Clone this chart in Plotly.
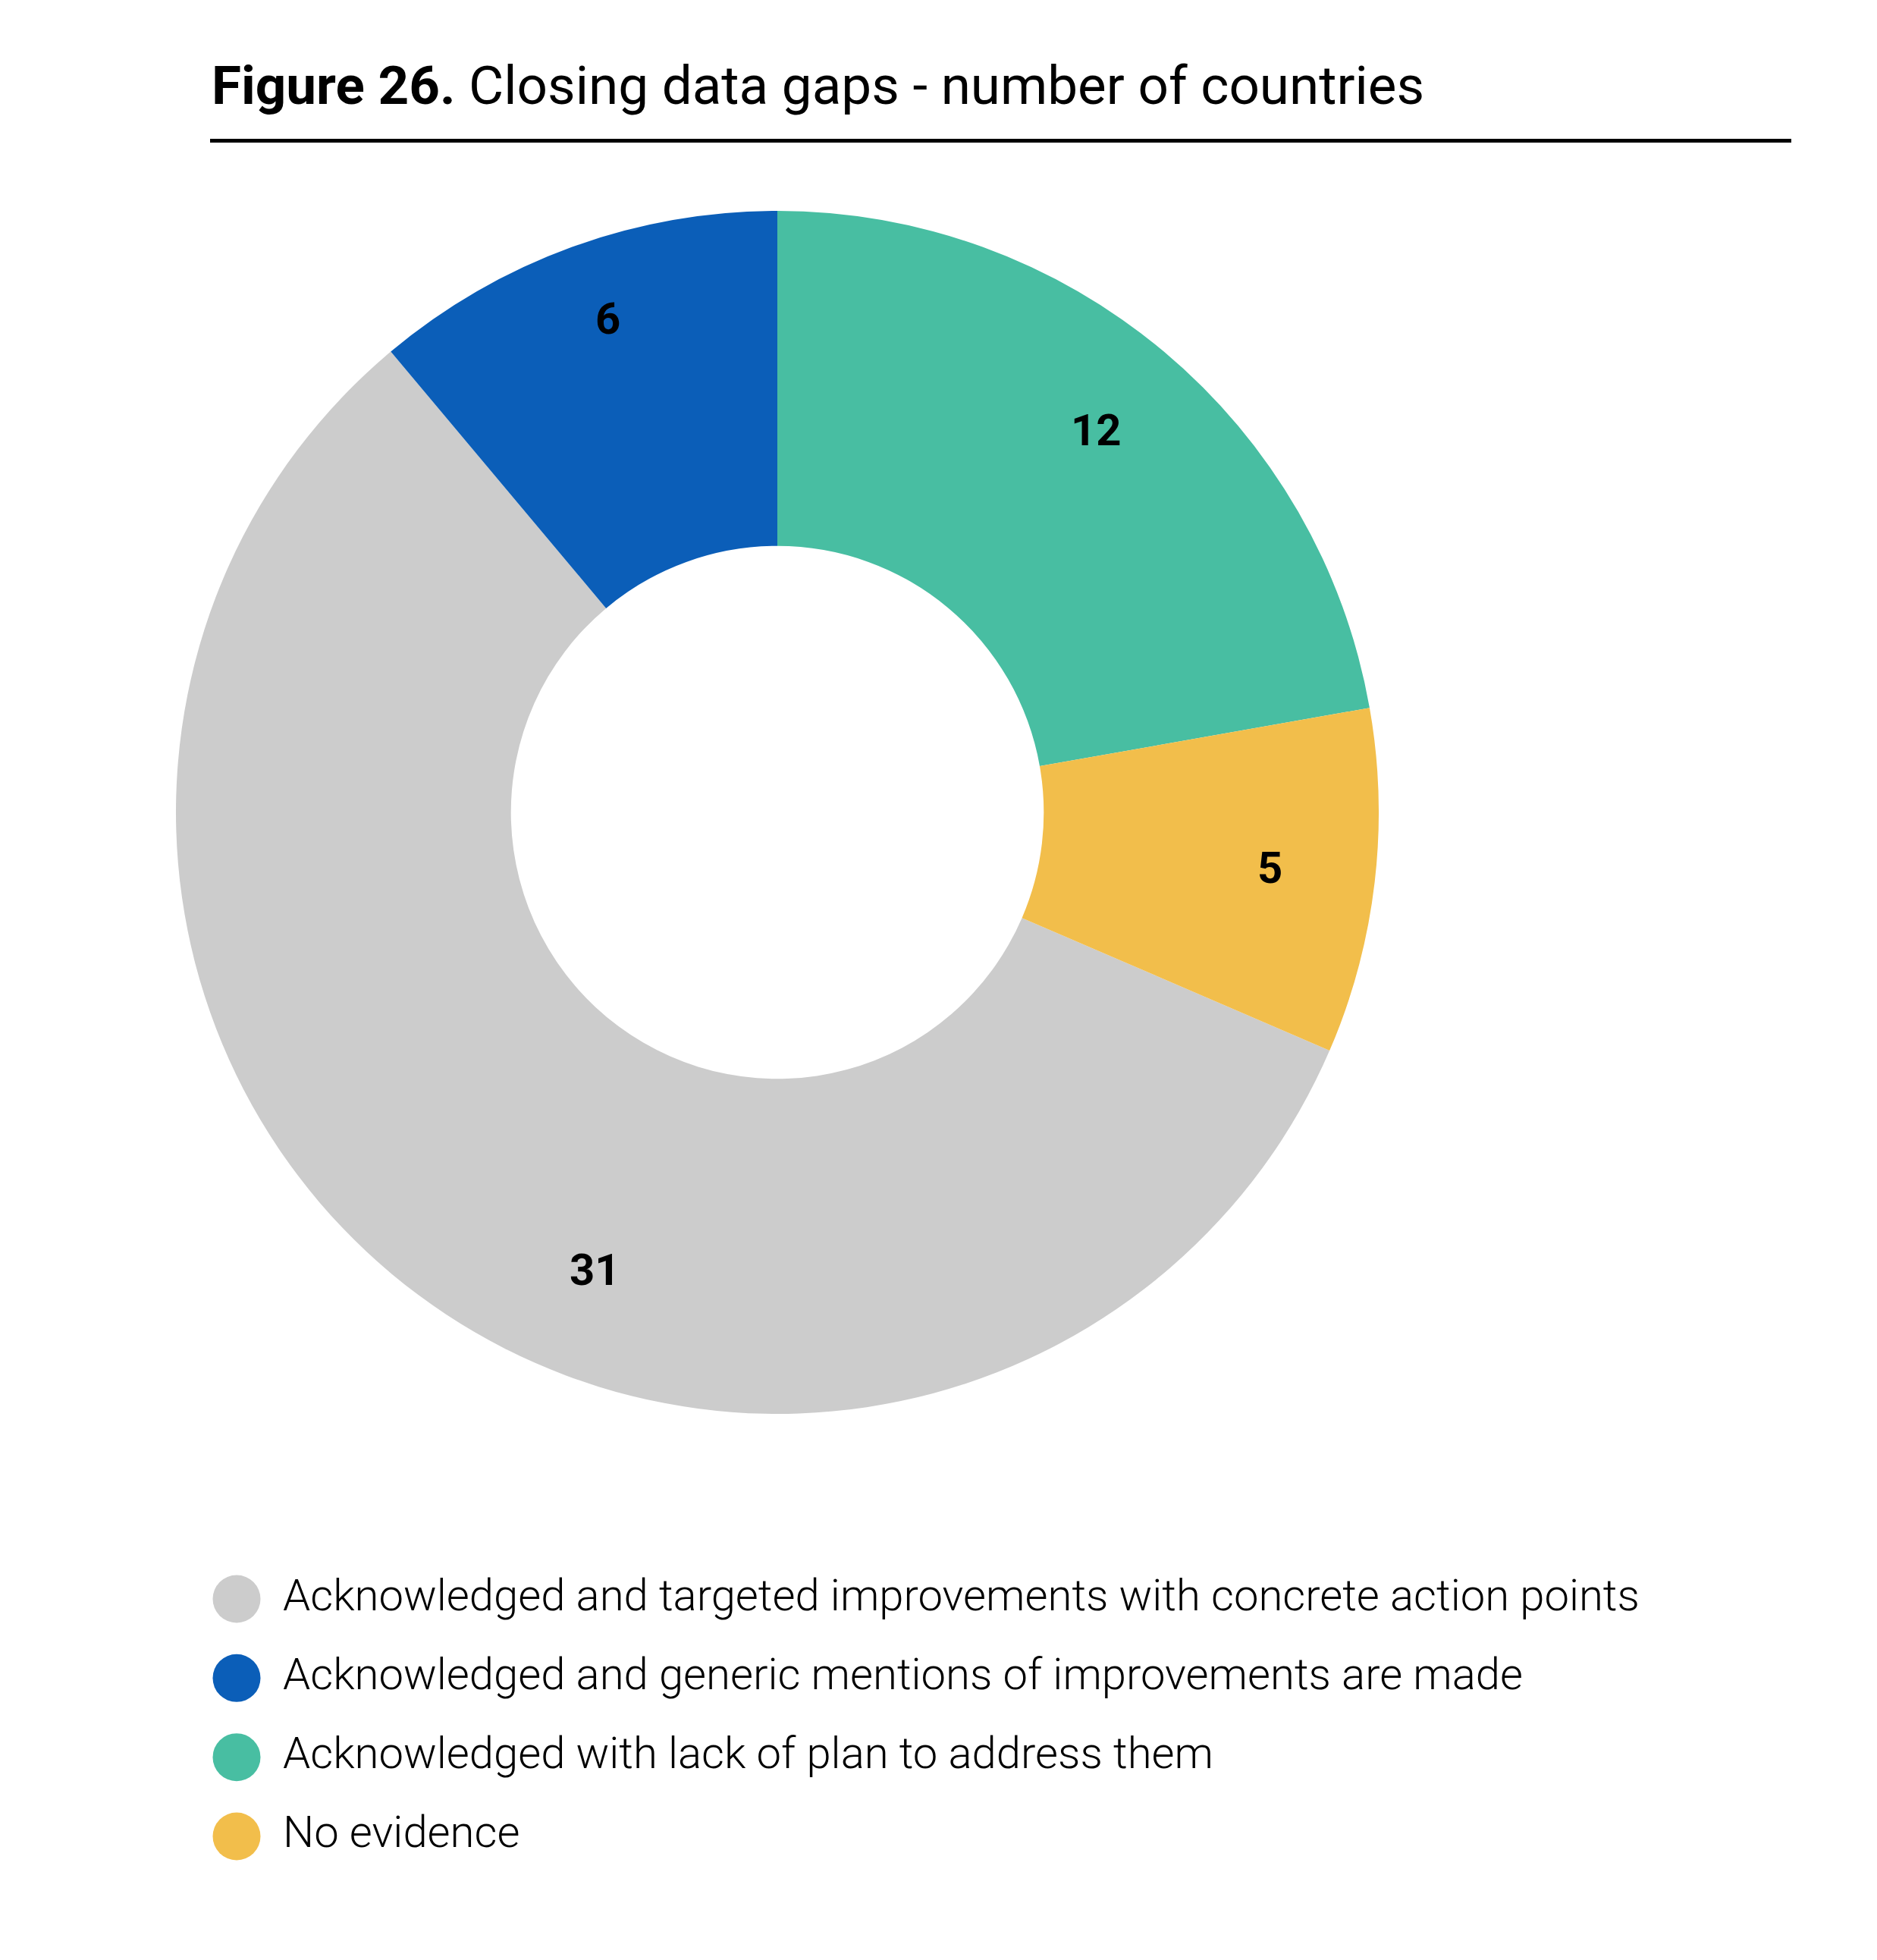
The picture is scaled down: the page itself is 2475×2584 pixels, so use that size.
import math
import plotly.graph_objects as go

# ---- data ----
categories = [
    "Acknowledged and targeted improvements with concrete action points",
    "Acknowledged and generic mentions of improvements are made",
    "Acknowledged with lack of plan to address them",
    "No evidence",
]
values = [31, 6, 12, 5]
colors = ["#CCCCCC", "#0B5EB8", "#48BEA2", "#F2BE4B"]
title_bold = "Figure 26."
title_rest = " Closing data gaps - number of countries"

# ---- layout geometry (figure pixels) ----
OFF = 8
W, H = 2475 - 2 * OFF, 2584 - 2 * OFF
CX, CY, R = 1025 - OFF, 1071 - OFF, 793
HOLE = 0.443
LABEL_R = 0.825
# per-slice label placement tweaks (radius fraction, angle shift in degrees)
label_tweaks = {0: (0.822, -15.0), 1: (0.864, 1.0)}

total = sum(values)
# first slice (gray) rotated so that the green slice starts at 12 o'clock
rotation = 360 - 360 * sum(values[:2]) / total


def px(x):
    return x / W


def py(y):
    return 1 - y / H


fig = go.Figure()

fig.add_trace(go.Pie(
    labels=categories,
    values=values,
    marker=dict(colors=colors, line=dict(width=0)),
    hole=HOLE,
    sort=False,
    direction="clockwise",
    rotation=rotation,
    textinfo="none",
    showlegend=False,
    domain=dict(x=[px(CX - R), px(CX + R)], y=[py(CY + R), py(CY - R)]),
))

annotations = []
cum = 0
for i, v in enumerate(values):
    rf, dang = label_tweaks.get(i, (LABEL_R, 0.0))
    ang = math.radians(rotation + 360 * (cum + v / 2) / total + dang)
    cum += v
    lx = CX + rf * R * math.sin(ang)
    ly = CY - rf * R * math.cos(ang)
    annotations.append(dict(
        x=px(lx), y=py(ly), xref="paper", yref="paper",
        text=f"<b>{v}</b>", showarrow=False,
        font=dict(family="Roboto", size=58, color="#000000"),
        xanchor="center", yanchor="middle", yshift=3,
    ))

annotations.append(dict(
    x=px(277 - OFF), y=py(113 - OFF), xref="paper", yref="paper",
    text=f"<b>{title_bold}</b>{title_rest}", showarrow=False,
    font=dict(family="Roboto", size=71, color="#000000"),
    xanchor="left", yanchor="middle",
))

# legend drawn as scatter on hidden axes
idx = list(range(len(categories)))
fig.add_trace(go.Scatter(
    x=[0] * len(idx), y=idx, mode="markers",
    marker=dict(size=63, color=colors, line=dict(width=0)),
    xaxis="x2", yaxis="y2", showlegend=False, hoverinfo="skip",
))
fig.add_trace(go.Scatter(
    x=[1] * len(idx), y=idx, mode="text", text=categories,
    textposition="middle right",
    textfont=dict(family="Roboto", size=58, color="#000000", weight=300),
    xaxis="x2", yaxis="y2", showlegend=False, hoverinfo="skip",
))

leg_x0 = 312 - OFF
leg_text = 373 - OFF
unit = leg_text - leg_x0
row0, row3 = 2108 - OFF, 2421 - OFF
step = (row3 - row0) / 3

fig.update_layout(
    width=W, height=H,
    margin=dict(l=0, r=0, t=0, b=0),
    paper_bgcolor="white", plot_bgcolor="white",
    annotations=annotations,
    shapes=[dict(type="line", xref="paper", yref="paper",
                 x0=px(277 - OFF), x1=px(2362 - OFF),
                 y0=py(185.5 - OFF), y1=py(185.5 - OFF),
                 line=dict(color="#000000", width=5))],
    xaxis2=dict(domain=[0, 1], range=[-leg_x0 / unit, (W - leg_x0) / unit],
                visible=False, fixedrange=True),
    yaxis2=dict(domain=[py(row3 + step / 2), py(row0 - step / 2)],
                range=[3.5, -0.5], visible=False, fixedrange=True),
    showlegend=False,
)

fig.write_html("out.html")
